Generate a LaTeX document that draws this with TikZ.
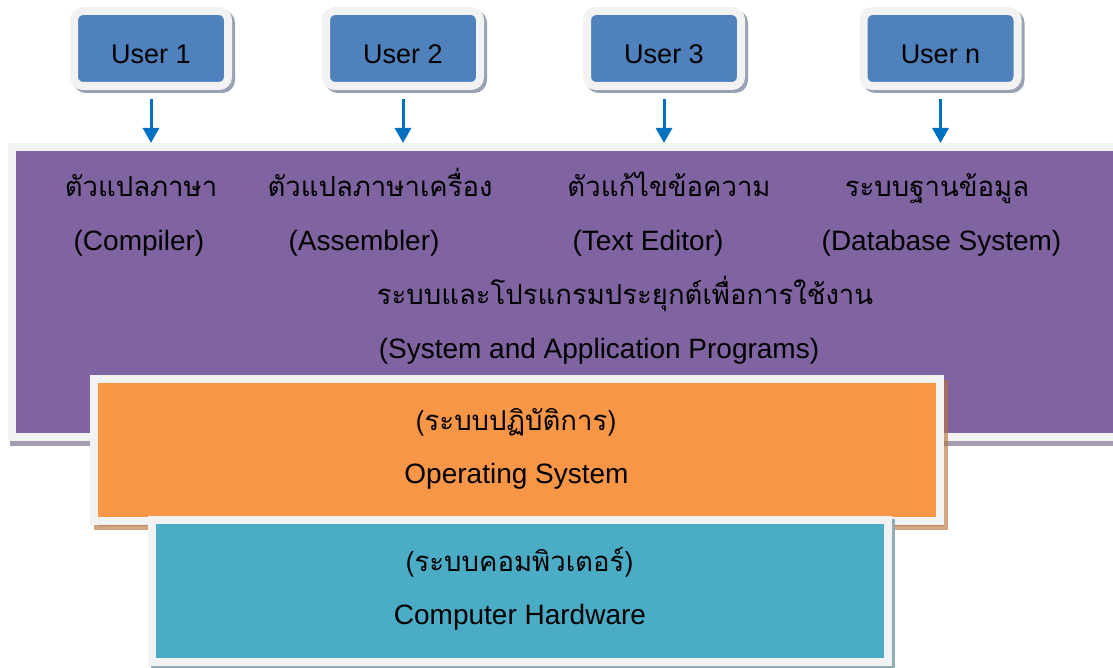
\documentclass[tikz,border=0pt]{standalone}
\usepackage{fontspec}
\setmainfont{Liberation Sans}
\newfontfamily\thaifont[Script=Thai]{Loma}
\usetikzlibrary{arrows.meta}
\definecolor{purp}{HTML}{8064A2}
\definecolor{oran}{HTML}{F79646}
\definecolor{teal2}{HTML}{4BACC6}
\definecolor{ublue}{HTML}{4F81BD}
\definecolor{rim}{HTML}{F2F2F2}
\definecolor{arrblue}{HTML}{0070C0}
\definecolor{ushadow}{HTML}{98A2B4}
\definecolor{pshadow}{HTML}{A49CB0}
\definecolor{oshadow}{HTML}{B9733F}
\definecolor{tshadow}{HTML}{8FAEB8}
\begin{document}
\begin{tikzpicture}[x=1pt,y=-1pt,
  userbox/.style={rectangle, rounded corners=9pt, draw=rim, line width=8pt, fill=ublue,
    minimum width=154pt, minimum height=75pt, inner sep=0pt,
    text height=31pt, text depth=0pt,
    font=\fontsize{27}{30}\selectfont,
    preaction={draw=ushadow, fill=ushadow, line width=8pt, transform canvas={xshift=3pt,yshift=-3pt}}},
  bigbox/.style={rectangle, draw=rim, line width=8pt, inner sep=0pt},
  lat/.style={anchor=base, inner sep=0pt, font=\fontsize{28}{30}\selectfont},
  th/.style={anchor=base, inner sep=0pt, font=\thaifont\fontsize{27.5}{30}\selectfont},
  arr/.style={draw=arrblue, line width=3pt, -{Triangle[width=16pt,length=15pt]}}
]
\useasboundingbox (0,0) rectangle (1113,668);

\node[userbox] (u1) at (151,48.5) {User 1};
\node[userbox] (u2) at (403,48.5) {User 2};
\node[userbox] (u3) at (664,48.5) {User 3};
\node[userbox] (un) at (940.5,48.5) {User n};

\node[bigbox, fill=purp, minimum width=1113pt, minimum height=289.5pt,
  preaction={draw=pshadow, fill=pshadow, line width=8pt, transform canvas={xshift=2pt,yshift=-5pt}}]
  (sys) at (568.5,291.75) {};
\node[bigbox, fill=oran, minimum width=845.5pt, minimum height=141.5pt,
  preaction={draw=oshadow, fill=oshadow, opacity=0.65, line width=8pt, transform canvas={xshift=4pt,yshift=-5pt}}]
  (os) at (516.75,449.75) {};
\node[bigbox, fill=teal2, minimum width=736pt, minimum height=142pt,
  preaction={draw=tshadow, fill=tshadow, line width=8pt, transform canvas={xshift=3pt,yshift=-3pt}}]
  (hw) at (520,591) {};

\foreach \u in {u1,u2,u3,un}
  \draw[arr] ([yshift=-9pt]\u.south) -- (\u.south |- sys.north);

\node[th]  (a1) at (141,197) {ตัวแปลภาษา};
\node[lat] (a2) at (139,251) {(Compiler)};
\node[th]  (b1) at (380,197) {ตัวแปลภาษาเครื่อง};
\node[lat] (b2) at (364,251) {(Assembler)};
\node[th]  (c1) at (669,197) {ตัวแก้ไขข้อความ};
\node[lat] (c2) at (648,251) {(Text Editor)};
\node[th]  (d1) at (937,197) {ระบบฐานข้อมูล};
\node[lat] (d2) at (941.5,251) {(Database System)};
\node[th]  (e1) at (625,305) {ระบบและโปรแกรมประยุกต์เพื่อการใช้งาน};
\node[lat] (e2) at (599,358) {(System and Application Programs)};
\node[th]  (f1) at (516,430) {(ระบบปฏิบัติการ)};
\node[lat] (f2) at (516.5,483) {Operating System};
\node[th]  (g1) at (519.5,571) {(ระบบคอมพิวเตอร์)};
\node[lat] (g2) at (520,624) {Computer Hardware};
\end{tikzpicture}
\end{document}
